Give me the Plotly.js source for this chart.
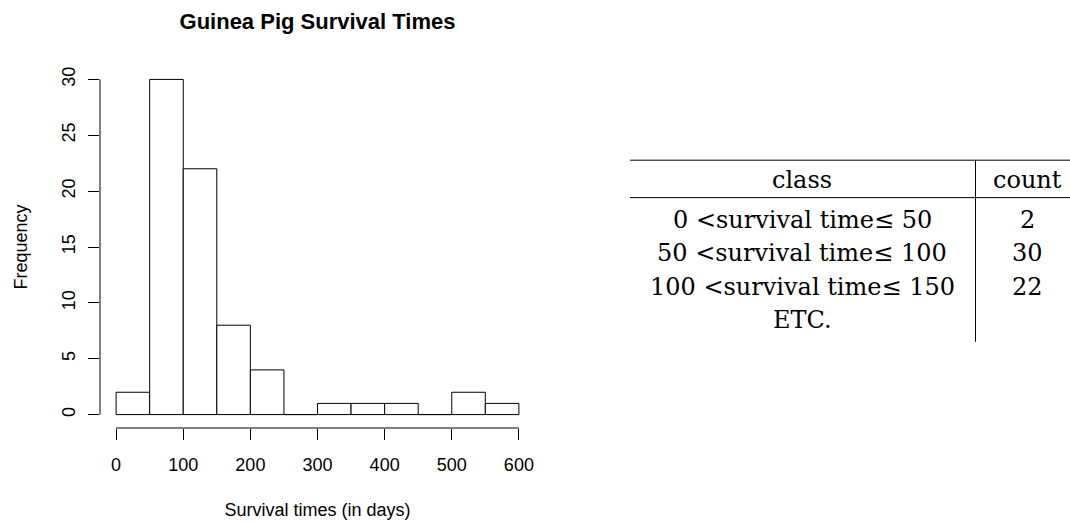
<!DOCTYPE html>
<html>
<head>
<meta charset="utf-8">
<script src="https://cdn.plot.ly/plotly-3.0.1.min.js"></script>
<style>html,body{margin:0;padding:0;background:#fff;}#chart{width:1070px;height:522px;}</style>
</head>
<body>
<div id="chart"></div>
<script>
// ---- data ----
const binStarts = [0, 50, 100, 150, 200, 250, 300, 350, 400, 450, 500, 550];
const binWidth = 50;
const counts = [2, 30, 22, 8, 4, 0, 1, 1, 1, 0, 2, 1];
const xTicks = [0, 100, 200, 300, 400, 500, 600];
const yTicks = [0, 5, 10, 15, 20, 25, 30];
const tableHeader = ["class", "count"];
const tableClasses = ["0 <survival time\u2264 50", "50 <survival time\u2264 100", "100 <survival time\u2264 150", "ETC."];
const tableCounts = ["2", "30", "22", ""];

// ---- layout geometry (pixels) ----
const W = 1070, H = 522;
const M = {l: 100, r: 535, t: 65.6, b: 93.6};
const pw = W - M.l - M.r, ph = H - M.t - M.b;
const px = x => (x - M.l) / pw;
const py = y => (H - M.b - y) / ph;

const sans = "Liberation Sans, Arial, Helvetica, sans-serif";
const serif = "DejaVu Serif, serif";

const trace = {
  type: "bar",
  x: binStarts.map(b => b + binWidth / 2),
  y: counts,
  width: binStarts.map(() => binWidth),
  marker: {color: "#ffffff", line: {color: "#000000", width: 1}},
  hoverinfo: "x+y",
  showlegend: false
};

const xMin = xTicks[0], xMax = xTicks[xTicks.length - 1];
const yMin = yTicks[0], yMax = yTicks[yTicks.length - 1];
const xPad = (xMax - xMin) * 0.04, yPad = (yMax - yMin) * 0.04;

const shapes = [
  // R-style axis lines spanning only the tick range
  {type: "line", xref: "x", yref: "paper", x0: xMin, x1: xMax, y0: 0, y1: 0, line: {color: "#000", width: 1}},
  {type: "line", xref: "paper", yref: "y", x0: 0, x1: 0, y0: yMin, y1: yMax, line: {color: "#000", width: 1}},
  // table rules
  {type: "line", xref: "paper", yref: "paper", x0: px(630), x1: px(1070), y0: py(160), y1: py(160), line: {color: "#000", width: 1}},
  {type: "line", xref: "paper", yref: "paper", x0: px(630), x1: px(1070), y0: py(197.5), y1: py(197.5), line: {color: "#000", width: 1}},
  {type: "line", xref: "paper", yref: "paper", x0: px(975.5), x1: px(975.5), y0: py(160), y1: py(342), line: {color: "#000", width: 1}}
];

const annotations = [];
const colX = [802, 1027];
const headerY = 180;
const rowY = [220, 253.5, 287, 320.5];
tableHeader.forEach((t, i) => annotations.push({
  xref: "paper", yref: "paper", x: px(colX[i]), y: py(headerY), text: t, showarrow: false,
  xanchor: "center", yanchor: "middle", font: {family: serif, size: 24, color: "#000"}
}));
tableClasses.forEach((t, i) => {
  annotations.push({xref: "paper", yref: "paper", x: px(colX[0]), y: py(rowY[i]), text: t, showarrow: false,
    xanchor: "center", yanchor: "middle", font: {family: serif, size: 24, color: "#000"}});
  if (tableCounts[i] !== "") annotations.push({xref: "paper", yref: "paper", x: px(colX[1]), y: py(rowY[i]), text: tableCounts[i], showarrow: false,
    xanchor: "center", yanchor: "middle", font: {family: serif, size: 24, color: "#000"}});
});

const layout = {
  width: W, height: H,
  margin: M,
  paper_bgcolor: "#fff", plot_bgcolor: "#fff",
  font: {family: sans, size: 18, color: "#000"},
  title: {text: "Guinea Pig Survival Times", font: {family: sans, size: 22, weight: "bold", color: "#000"},
    xref: "paper", x: 0.5, xanchor: "center", yref: "container", y: 1 - 21 / H, yanchor: "middle"},
  bargap: 0,
  xaxis: {range: [xMin - xPad, xMax + xPad], tickmode: "array", tickvals: xTicks, ticktext: xTicks.map(String),
    ticks: "outside", ticklen: 11, tickwidth: 1, tickcolor: "#000", showgrid: false, zeroline: false, showline: false,
    ticklabelstandoff: 9, automargin: false, fixedrange: true,
    title: {text: "Survival times (in days)", font: {family: sans, size: 18, color: "#000"}, standoff: 29}},
  yaxis: {range: [yMin - yPad, yMax + yPad], tickmode: "array", tickvals: yTicks, ticktext: yTicks.map(String),
    ticks: "outside", ticklen: 11, tickwidth: 1, tickcolor: "#000", showgrid: false, zeroline: false, showline: false,
    tickangle: -90, ticklabelstandoff: 6, automargin: false, fixedrange: true,
    title: {text: "Frequency", font: {family: sans, size: 18, color: "#000"}, standoff: 26}},
  shapes: shapes,
  annotations: annotations
};

Plotly.newPlot("chart", [trace], layout, {displayModeBar: false, staticPlot: true});
</script>
</body>
</html>
